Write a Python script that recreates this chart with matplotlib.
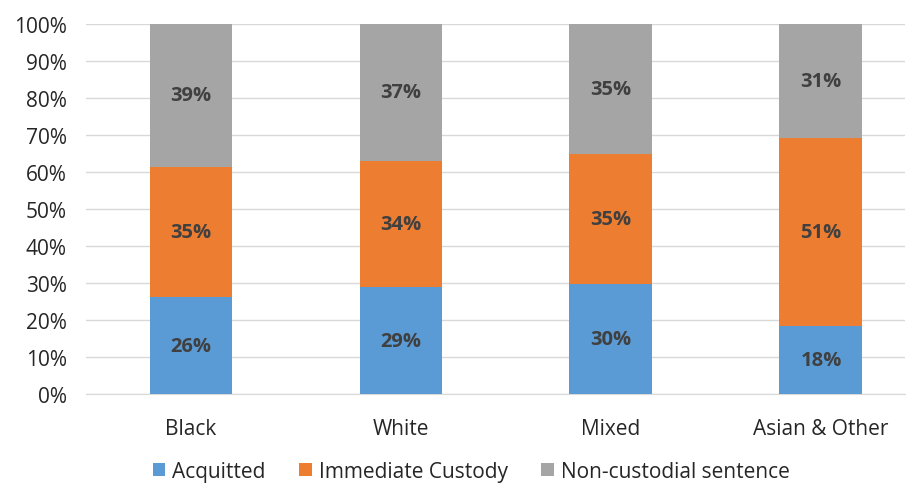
import matplotlib
matplotlib.use("Agg")
import matplotlib.pyplot as plt
import numpy as np

categories = ["Black", "White", "Mixed", "Asian & Other"]
acquitted = [26.2, 28.9, 29.7, 18.4]
custody = [35.2, 34.1, 35.2, 50.8]
noncustodial = [38.6, 37.0, 35.1, 30.8]
series_names = ["Acquitted", "Immediate Custody", "Non-custodial sentence"]
colors = ["#5B9BD5", "#ED7D31", "#A5A5A5"]

plt.rcParams['font.family'] = ['Open Sans', 'DejaVu Sans']

fig = plt.figure(figsize=(9.15, 4.89), dpi=100)
ax = fig.add_axes([0.094, 0.192, 0.895, 0.757])

x = np.arange(len(categories))
width = 0.395
bottom = np.zeros(len(categories))
for vals, name, c in zip([acquitted, custody, noncustodial], series_names, colors):
    vals = np.array(vals)
    ax.bar(x, vals, width, bottom=bottom, color=c, label=name, zorder=3)
    for xi, v, b in zip(x, vals, bottom):
        ax.text(xi, b + v / 2, f"{round(v):d}%", ha="center", va="center",
                fontsize=14.5, fontweight="bold", color="#404040", zorder=4)
    bottom += vals

ax.set_xlim(-0.5, 3.4)
ax.set_ylim(0, 100)
ax.set_yticks(np.arange(0, 101, 10))
ax.set_yticklabels([f"{t}%" for t in range(0, 101, 10)])
ax.set_xticks(x)
ax.set_xticklabels(categories)
ax.tick_params(axis="both", length=0, labelsize=15, colors="#262626")
ax.tick_params(axis="x", pad=17)
ax.tick_params(axis="y", pad=14)
ax.yaxis.grid(True, color="#D9D9D9", linewidth=1, zorder=0)
for s in ["top", "right", "left"]:
    ax.spines[s].set_visible(False)
ax.spines["bottom"].set_color("#D9D9D9")

leg = fig.legend(loc="lower center", bbox_to_anchor=(0.515, -0.026), ncol=3, frameon=False,
                 fontsize=15, handlelength=0.6, handleheight=0.6, columnspacing=1.6,
                 handletextpad=0.35)
for t in leg.get_texts():
    t.set_color("#262626")

fig.savefig("out.png", dpi=100)
